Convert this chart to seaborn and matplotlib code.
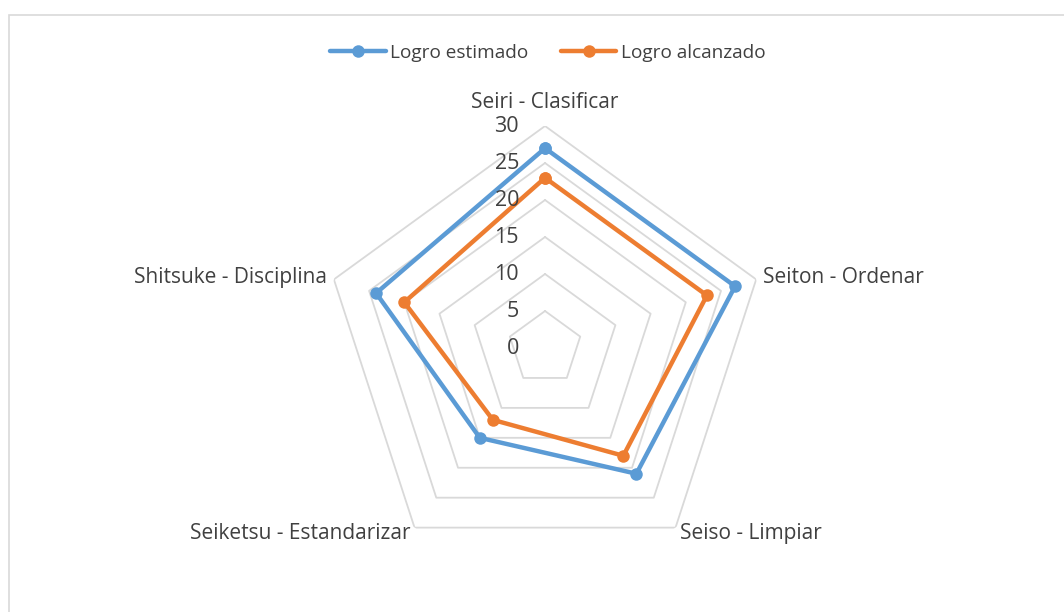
import numpy as np
import pandas as pd
import seaborn as sns
import matplotlib.pyplot as plt
from matplotlib.lines import Line2D
from matplotlib.patches import Rectangle
from matplotlib.transforms import offset_copy

# datos del gráfico radial
categorias = ["Seiri - Clasificar", "Seiton - Ordenar", "Seiso - Limpiar",
              "Seiketsu - Estandarizar", "Shitsuke - Disciplina"]
logro_estimado = [27, 27, 21, 15, 24]
logro_alcanzado = [23, 23, 18, 12, 20]
series = ["Logro estimado", "Logro alcanzado"]
niveles = [5, 10, 15, 20, 25, 30]
etiquetas_niveles = ["0", "5", "10", "15", "20", "25", "30"]

colores = ["#5B9BD5", "#ED7D31"]
gris_texto = "#404040"

sns.set_theme(style="white")
plt.rcParams["font.family"] = ["Open Sans", "DejaVu Sans"]

n = len(categorias)
angulos = np.linspace(0, 2 * np.pi, n, endpoint=False)
angulos_cerrados = np.append(angulos, angulos[0])

# tabla larga para seaborn (se repite el primer punto para cerrar el polígono)
filas = []
for nombre, valores in zip(series, [logro_estimado, logro_alcanzado]):
    cerrados = valores + valores[:1]
    for i, (a, v) in enumerate(zip(angulos_cerrados, cerrados)):
        filas.append({"serie": nombre, "orden": i, "theta": a, "valor": v})
df = pd.DataFrame(filas)

fig = plt.figure(figsize=(10.64, 6.12), dpi=100)
ax = fig.add_axes([0.3036, 0.0686, 0.4173, 0.7255], projection="polar")
ax.set_theta_offset(np.pi / 2)
ax.set_theta_direction(-1)
ax.set_ylim(0, 30)
ax.grid(False)
ax.spines["polar"].set_visible(False)
ax.set_xticks([])
ax.set_yticks([])
ax.patch.set_alpha(0)

# anillos pentagonales
for nivel in niveles:
    ax.plot(angulos_cerrados, [nivel] * (n + 1), color="#d9d9d9", lw=1.3, zorder=1)

sns.lineplot(data=df, x="theta", y="valor", hue="serie", units="serie",
             estimator=None, sort=False, palette=colores, marker="o",
             markersize=9, markeredgewidth=0, linewidth=3.2, ax=ax, legend=False,
             zorder=3)
ax.set_xlabel("")
ax.set_ylabel("")

# etiquetas del eje de valores
trans = offset_copy(ax.transData, fig=fig, x=-26, y=0, units="dots")
for i, txt in enumerate(etiquetas_niveles):
    ax.text(0, i * 5, txt, transform=trans, ha="right", va="center",
            fontsize=15.5, color=gris_texto)

# etiquetas de categorías
for a, cat in zip(angulos, categorias):
    s = np.sin(a)
    if abs(s) < 1e-6:
        ax.text(a, 33.2, cat, ha="center", va="center", fontsize=15, color=gris_texto)
    elif s > 0:
        ax.text(a, 31, cat, ha="left", va="center", fontsize=15, color=gris_texto)
    else:
        ax.text(a, 31, cat, ha="right", va="center", fontsize=15, color=gris_texto)

# leyenda
manejadores = [Line2D([0], [0], color=c, lw=3.2, marker="o", markersize=9,
                      markeredgewidth=0) for c in colores]
fig.legend(manejadores, series, loc="center", bbox_to_anchor=(548 / 1064, 1 - 53 / 612),
           ncol=2, frameon=False, fontsize=13.7, handlelength=2.9,
           handletextpad=0.25, columnspacing=1.7, labelcolor=gris_texto)

# borde del área del gráfico
fig.add_artist(Rectangle((9 / 1064, -0.1), 1.2, 1.1 - 15 / 612,
                         transform=fig.transFigure, fill=False,
                         edgecolor="#d9d9d9", lw=1.2))

fig.savefig("out.png", dpi=100)
